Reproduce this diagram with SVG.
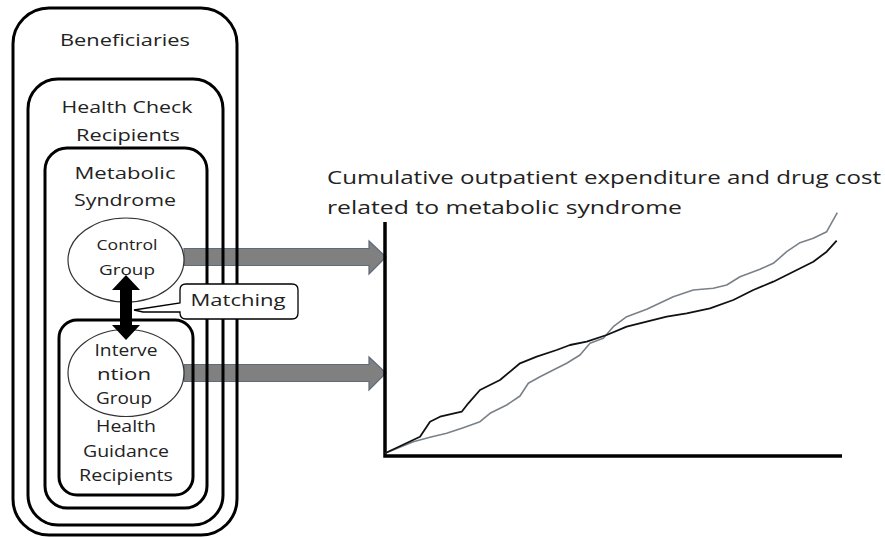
<svg xmlns="http://www.w3.org/2000/svg" width="885" height="537" viewBox="0 0 885 537">
<style>
.box{fill:none;stroke:#000;stroke-width:3}
.ell{fill:#fff;stroke:#333;stroke-width:1.2}
.lbl{font-family:"Open Sans","DejaVu Sans",sans-serif;font-size:17px;fill:#222;text-anchor:middle}
.sm{font-size:14.5px}
.ttl{font-family:"Open Sans","DejaVu Sans",sans-serif;font-size:19px;fill:#222}
.garr{fill:#808080;stroke:#5f6a7a;stroke-width:1.2}
.axis{fill:none;stroke:#000;stroke-width:3.5}
</style>
<rect width="885" height="537" fill="#fff"/>
<g id="connectors">
  <polygon class="garr" points="184,248.5 369,248.5 369,241 386,257 369,274 369,265.5 184,265.5"/>
  <polygon class="garr" points="184,364.5 369,364.5 369,357 386,373 369,390 369,381.5 184,381.5"/>
</g>
<g id="beneficiaries">
  <rect class="box" x="13" y="8" width="224" height="527" rx="36"/>
  <text class="lbl" x="125" y="46" textLength="130" lengthAdjust="spacingAndGlyphs">Beneficiaries</text>
</g>
<g id="health-check">
  <rect class="box" x="28" y="79" width="195" height="446" rx="30"/>
  <text class="lbl" x="127" y="113" textLength="131" lengthAdjust="spacingAndGlyphs">Health Check</text>
  <text class="lbl" x="128" y="141" textLength="104" lengthAdjust="spacingAndGlyphs">Recipients</text>
</g>
<g id="metabolic">
  <rect class="box" x="45" y="148" width="162" height="360" rx="22"/>
  <text class="lbl" x="125" y="179" textLength="101" lengthAdjust="spacingAndGlyphs">Metabolic</text>
  <text class="lbl" x="125" y="206" textLength="102" lengthAdjust="spacingAndGlyphs">Syndrome</text>
</g>
<g id="health-guidance">
  <rect class="box" x="59" y="320" width="134" height="175" rx="18"/>
  <text class="lbl" x="126" y="432" textLength="60" lengthAdjust="spacingAndGlyphs">Health</text>
  <text class="lbl" x="126" y="457" textLength="86" lengthAdjust="spacingAndGlyphs">Guidance</text>
  <text class="lbl" x="126" y="481" textLength="94" lengthAdjust="spacingAndGlyphs">Recipients</text>
</g>
<g id="control-group">
  <ellipse class="ell" cx="126" cy="260" rx="58" ry="42"/>
  <text class="lbl sm" x="127" y="250" textLength="61" lengthAdjust="spacingAndGlyphs">Control</text>
  <text class="lbl sm" x="127" y="275" textLength="56" lengthAdjust="spacingAndGlyphs">Group</text>
</g>
<g id="intervention-group">
  <ellipse class="ell" cx="126" cy="373" rx="58" ry="43.5"/>
  <text class="lbl" x="126" y="356" textLength="63" lengthAdjust="spacingAndGlyphs">Interve</text>
  <text class="lbl" x="124" y="380" textLength="54" lengthAdjust="spacingAndGlyphs">ntion</text>
  <text class="lbl" x="124" y="404" textLength="56" lengthAdjust="spacingAndGlyphs">Group</text>
</g>
<g id="matching-arrow">
  <polygon fill="#000" points="126,275 140,290 132,290 132,325 140,325 126,340 112,325 120,325 120,290 112,290"/>
</g>
<g id="matching">
  <path d="M186,284 H292 Q298,284 298,290 V313 Q298,319 292,319 H186 Q180,319 180,313 V312 L143,312 L134,310 L180,303 V290 Q180,284 186,284 Z" fill="#fff" stroke="#000" stroke-width="1.3"/>
  <text class="lbl" x="238" y="306" textLength="95" lengthAdjust="spacingAndGlyphs">Matching</text>
</g>
<g id="chart">
  <text class="ttl" x="327" y="184" textLength="554" lengthAdjust="spacingAndGlyphs">Cumulative outpatient expenditure and drug cost</text>
  <text class="ttl" x="327" y="214" textLength="355" lengthAdjust="spacingAndGlyphs">related to metabolic syndrome</text>
  <polyline class="axis" points="385,222 385,456 842,456"/>
  <polyline fill="none" stroke="#7a8088" stroke-width="1.6" stroke-linejoin="round" points="385,453.3 413.3,441.7 430,437.3 446.7,433.3 463.3,427.7 480,421.7 490,413.3 506.7,405 520,396 528.3,383.3 540,376.7 556.7,368.3 566.7,363.3 580,355 590,343.3 603.3,338.3 613.3,326.7 626.7,316.7 646.7,309.3 673.3,296.7 693.3,290 713.3,288.3 726.7,285 740,276.7 760,269.3 773.3,263.3 786.7,251.7 800,242.7 813.3,238.3 826.7,231.7 837.3,212.7"/>
  <polyline fill="none" stroke="#111" stroke-width="1.8" stroke-linejoin="round" points="385,453.3 420,436.7 430,421.7 440,416.7 461.7,411.7 468.3,403.3 480,390 500,380 520,363.3 536.7,356.7 556.7,350 570,345 586.7,341.7 606.7,335 626.7,326.7 646.7,321.7 666.7,316.7 686.7,313.3 710,308.3 733.3,300 753.3,290 773.3,281.7 793.3,271.7 813.3,261.7 826.7,251.7 836.7,240.7"/>
</g>
</svg>
